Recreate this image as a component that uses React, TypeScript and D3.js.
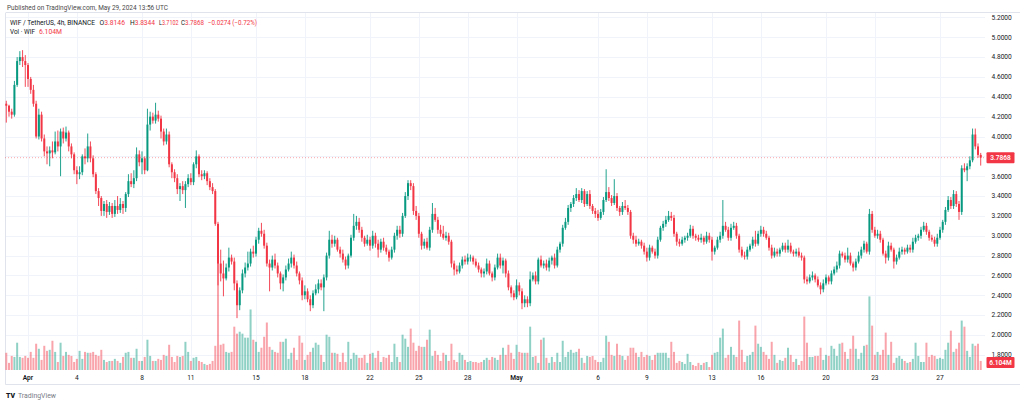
import React, { useRef, useEffect } from 'react';
import * as d3 from 'd3';

// WIF / TetherUS, 4h candles from Mar 30 16:00 UTC to May 29 12:00 UTC
const firstOpen = 4.33;

const closes = [
  4.31, 4.25, 4.22, 4.52, 4.76, 4.80, 4.76, 4.72, 4.58, 4.47,
  4.33, 4.00, 4.22, 3.98, 3.85, 3.83, 3.86, 3.84, 3.95, 3.90,
  4.05, 3.98, 4.04, 3.90, 3.82, 3.66, 3.62, 3.64, 3.80, 3.78,
  3.90, 3.78, 3.62, 3.45, 3.38, 3.25, 3.32, 3.24, 3.30, 3.22,
  3.30, 3.26, 3.32, 3.28, 3.42, 3.55, 3.52, 3.58, 3.82, 3.74,
  3.78, 3.66, 4.12, 4.20, 4.16, 4.22, 4.18, 4.05, 3.95, 4.02,
  3.72, 3.64, 3.58, 3.47, 3.50, 3.46, 3.52, 3.58, 3.54, 3.72,
  3.80, 3.62, 3.60, 3.63, 3.55, 3.49, 3.45, 3.12, 2.72, 2.62,
  2.57, 2.68, 2.78, 2.74, 2.52, 2.30, 2.45, 2.62, 2.68, 2.72,
  2.84, 2.82, 2.96, 3.05, 3.02, 2.90, 2.72, 2.68, 2.76, 2.70,
  2.62, 2.52, 2.58, 2.66, 2.72, 2.78, 2.70, 2.62, 2.55, 2.40,
  2.44, 2.36, 2.30, 2.42, 2.46, 2.52, 2.48, 2.58, 2.80, 2.96,
  2.92, 2.96, 2.86, 2.82, 2.76, 2.70, 2.80, 2.98, 3.10, 3.14,
  3.06, 2.98, 2.92, 2.96, 2.90, 3.00, 2.92, 2.86, 2.94, 2.88,
  2.84, 2.78, 2.86, 3.00, 3.06, 3.02, 3.20, 3.40, 3.53, 3.50,
  3.25, 3.20, 3.02, 2.90, 2.94, 2.88, 3.06, 3.22, 3.16, 3.06,
  3.02, 2.98, 3.00, 2.94, 2.72, 2.66, 2.64, 2.70, 2.76, 2.74,
  2.78, 2.78, 2.74, 2.70, 2.66, 2.62, 2.64, 2.72, 2.62, 2.58,
  2.68, 2.78, 2.70, 2.75, 2.62, 2.48, 2.42, 2.38, 2.50, 2.44,
  2.32, 2.36, 2.32, 2.56, 2.60, 2.54, 2.76, 2.70, 2.72, 2.68,
  2.75, 2.78, 2.70, 2.86, 2.92, 3.08, 3.14, 3.28, 3.32, 3.38,
  3.42, 3.36, 3.45, 3.32, 3.42, 3.30, 3.25, 3.22, 3.18, 3.24,
  3.36, 3.44, 3.38, 3.33, 3.40, 3.28, 3.24, 3.30, 3.28, 3.24,
  3.00, 2.96, 2.92, 2.94, 2.90, 2.84, 2.78, 2.88, 2.84, 2.80,
  2.96, 3.08, 3.12, 3.16, 3.20, 3.18, 3.02, 2.94, 2.92, 2.96,
  2.98, 3.00, 3.07, 3.00, 2.98, 2.96, 2.98, 2.94, 3.00, 2.96,
  2.84, 2.88, 2.96, 3.00, 3.10, 3.06, 2.98, 3.08, 3.10, 3.00,
  2.86, 2.80, 2.79, 2.86, 2.90, 2.96, 2.92, 3.02, 3.06, 3.02,
  2.98, 2.88, 2.80, 2.84, 2.82, 2.86, 2.90, 2.86, 2.90, 2.84,
  2.82, 2.84, 2.80, 2.78, 2.56, 2.54, 2.58, 2.60, 2.56, 2.50,
  2.46, 2.52, 2.58, 2.54, 2.62, 2.66, 2.70, 2.82, 2.80, 2.76,
  2.80, 2.72, 2.68, 2.74, 2.80, 2.86, 2.92, 2.84, 3.22, 3.06,
  3.00, 3.02, 2.96, 2.82, 2.78, 2.90, 2.86, 2.74, 2.78, 2.84,
  2.86, 2.84, 2.88, 2.86, 2.94, 2.98, 3.00, 3.06, 3.10, 3.04,
  2.98, 2.96, 2.92, 2.98, 3.06, 3.14, 3.26, 3.36, 3.30, 3.42,
  3.32, 3.24, 3.68, 3.66, 3.70, 3.76, 4.02, 3.90, 3.8146, 3.7868,
];

// wick lengths above / below the body, in hundredths
const upperWicks = [
  3, 1, 3, 4, 4, 6, 7, 6, 2, 2,
  5, 3, 6, 3, 4, 5, 4, 9, 10, 11,
  3, 4, 6, 2, 3, 2, 4, 6, 2, 8,
  13, 5, 3, 2, 3, 2, 3, 4, 4, 3,
  6, 10, 6, 3, 2, 7, 8, 8, 7, 4,
  7, 2, 16, 5, 4, 12, 4, 3, 3, 6,
  3, 2, 3, 4, 3, 5, 3, 4, 5, 2,
  6, 2, 4, 3, 2, 3, 4, 2, 2, 14,
  13, 4, 10, 3, 4, 3, 3, 4, 5, 12,
  3, 6, 3, 3, 8, 4, 3, 4, 4, 6,
  3, 2, 3, 4, 5, 6, 3, 4, 2, 3,
  6, 3, 4, 3, 5, 4, 4, 3, 3, 9,
  5, 4, 2, 3, 4, 3, 2, 3, 12, 6,
  4, 3, 2, 5, 3, 5, 3, 4, 3, 4,
  3, 2, 3, 3, 4, 4, 3, 4, 3, 3,
  3, 5, 3, 2, 3, 4, 3, 11, 6, 3,
  5, 8, 4, 3, 2, 3, 4, 3, 3, 4,
  4, 3, 2, 3, 3, 2, 3, 5, 3, 2,
  3, 4, 4, 3, 2, 3, 2, 3, 6, 3,
  3, 4, 3, 8, 3, 4, 2, 4, 3, 4,
  3, 2, 4, 3, 2, 3, 4, 3, 2, 3,
  6, 4, 3, 2, 3, 4, 2, 3, 4, 3,
  3, 23, 5, 3, 17, 3, 2, 4, 6, 3,
  2, 3, 4, 3, 2, 3, 4, 3, 2, 3,
  3, 2, 3, 4, 5, 4, 3, 2, 3, 3,
  2, 3, 4, 3, 2, 3, 4, 2, 4, 3,
  3, 2, 3, 4, 26, 4, 3, 4, 4, 3,
  2, 3, 4, 3, 2, 3, 9, 3, 4, 3,
  3, 2, 3, 4, 3, 2, 3, 3, 6, 3,
  2, 3, 4, 3, 2, 3, 3, 4, 2, 3,
  3, 4, 3, 2, 3, 3, 4, 3, 2, 3,
  8, 3, 2, 3, 4, 3, 3, 2, 5, 3,
  3, 4, 3, 2, 3, 4, 3, 2, 3, 4,
  3, 2, 3, 3, 4, 3, 2, 3, 4, 3,
  2, 3, 3, 4, 3, 2, 3, 4, 3, 4,
  3, 3, 3, 5, 3, 4, 6, 6, 3, 2,
];

const lowerWicks = [
  17, 5, 4, 2, 2, 4, 6, 22, 8, 4,
  3, 2, 3, 3, 5, 11, 13, 6, 2, 5,
  30, 5, 3, 5, 4, 4, 10, 5, 3, 6,
  4, 4, 3, 3, 8, 5, 5, 6, 3, 4,
  3, 4, 3, 6, 4, 3, 3, 4, 3, 4,
  12, 4, 1, 6, 3, 3, 3, 7, 4, 3,
  3, 6, 4, 5, 12, 4, 18, 3, 3, 3,
  4, 3, 4, 3, 4, 3, 3, 2, 22, 8,
  18, 2, 4, 3, 7, 13, 5, 3, 4, 3,
  3, 4, 3, 4, 3, 3, 3, 24, 3, 3,
  4, 6, 8, 3, 2, 4, 3, 3, 4, 5,
  4, 3, 6, 3, 2, 4, 3, 24, 3, 3,
  4, 3, 2, 4, 3, 4, 3, 2, 3, 4,
  3, 4, 3, 2, 5, 3, 4, 8, 3, 3,
  3, 4, 2, 3, 4, 4, 3, 2, 4, 4,
  4, 4, 4, 4, 3, 2, 3, 3, 2, 4,
  3, 2, 3, 3, 4, 6, 3, 2, 3, 3,
  3, 4, 3, 2, 3, 4, 4, 3, 2, 4,
  3, 2, 3, 8, 4, 3, 4, 3, 2, 4,
  6, 4, 4, 3, 2, 3, 3, 2, 3, 3,
  4, 4, 3, 2, 3, 3, 2, 3, 4, 3,
  3, 2, 3, 3, 2, 3, 3, 4, 3, 2,
  3, 2, 3, 3, 2, 3, 4, 3, 2, 3,
  3, 4, 3, 2, 3, 3, 4, 3, 2, 3,
  3, 2, 3, 3, 2, 3, 3, 4, 3, 2,
  3, 3, 2, 3, 3, 2, 3, 3, 2, 3,
  9, 3, 2, 3, 3, 2, 3, 3, 2, 3,
  3, 2, 3, 3, 2, 3, 3, 2, 3, 3,
  2, 3, 3, 2, 3, 3, 2, 3, 3, 2,
  3, 3, 2, 3, 4, 3, 2, 3, 3, 2,
  5, 3, 2, 3, 3, 2, 3, 3, 2, 3,
  3, 2, 4, 3, 2, 3, 3, 2, 3, 3,
  2, 3, 3, 2, 6, 3, 2, 7, 3, 2,
  3, 3, 2, 3, 3, 2, 3, 3, 2, 3,
  3, 2, 3, 3, 2, 3, 3, 2, 3, 3,
  3, 8, 3, 2, 11, 3, 2, 3, 3, 8,
];

// volume per candle, millions of WIF
const volumes = [
  11.6, 4.8, 9.5, 8.8, 18.4, 8.8, 8.2, 9.5, 8.2, 12.2,
  8.2, 17.7, 14.3, 6.8, 16.3, 12.9, 13.6, 19.7, 12.2, 5.4,
  18.4, 9.5, 12.2, 10.2, 9.5, 5.4, 7.5, 12.9, 7.5, 12.2,
  11.6, 11.6, 12.2, 10.2, 9.5, 13.6, 6.8, 5.4, 6.1, 6.1,
  7.5, 6.1, 4.8, 8.8, 11.6, 12.2, 8.2, 8.2, 14.3, 6.1,
  6.1, 8.8, 20.4, 9.5, 6.1, 6.1, 7.5, 6.8, 10.2, 9.5,
  17.0, 8.8, 5.4, 9.5, 8.8, 9.5, 19.0, 12.2, 6.1, 8.2,
  8.8, 6.1, 5.4, 4.1, 3.4, 4.1, 6.1, 16.3, 72.1, 17.0,
  17.7, 12.2, 11.6, 12.2, 29.2, 24.5, 25.8, 24.5, 21.8, 21.8,
  40.8, 20.4, 19.0, 12.2, 15.0, 22.4, 32.0, 15.6, 13.6, 12.2,
  11.6, 19.0, 19.0, 21.1, 7.5, 11.6, 15.0, 6.8, 23.1, 18.4,
  6.8, 10.2, 12.2, 15.0, 18.4, 17.0, 10.2, 5.4, 23.8, 22.4,
  11.6, 11.6, 10.9, 5.4, 11.6, 5.4, 19.0, 7.5, 11.6, 10.2,
  8.2, 8.2, 10.2, 4.8, 10.9, 11.6, 8.2, 12.9, 5.4, 8.8,
  8.2, 10.2, 5.4, 17.7, 8.8, 5.4, 23.8, 21.1, 15.6, 27.9,
  18.4, 12.9, 16.3, 15.6, 15.6, 20.4, 27.2, 9.5, 12.9, 10.2,
  6.1, 11.6, 10.2, 6.1, 17.7, 6.8, 5.4, 11.6, 10.2, 6.8,
  5.4, 6.1, 5.4, 5.4, 4.8, 5.4, 6.8, 8.2, 6.8, 8.8,
  8.2, 6.8, 10.2, 15.0, 10.2, 17.0, 11.6, 7.5, 17.0, 12.2,
  11.6, 11.6, 11.6, 29.2, 8.8, 9.5, 4.8, 20.4, 21.8, 8.2,
  4.8, 8.8, 5.4, 11.6, 5.4, 19.7, 8.8, 12.2, 13.6, 11.6,
  12.2, 14.3, 8.2, 4.8, 9.5, 8.8, 9.5, 6.8, 5.4, 5.4,
  8.2, 23.1, 19.0, 10.2, 9.5, 17.7, 10.2, 9.5, 6.8, 9.5,
  15.0, 15.0, 11.6, 8.8, 12.2, 8.8, 10.2, 9.5, 6.8, 10.2,
  11.6, 11.6, 11.6, 11.6, 8.2, 19.0, 12.2, 4.8, 6.1, 5.4,
  4.1, 10.9, 5.4, 3.4, 2.7, 4.8, 3.4, 4.8, 5.4, 2.0,
  10.2, 11.6, 12.2, 21.8, 27.9, 8.2, 10.2, 15.6, 10.2, 8.8,
  33.3, 13.6, 5.4, 9.5, 10.2, 12.2, 29.9, 17.7, 15.6, 12.2,
  10.2, 7.5, 19.0, 10.2, 4.8, 6.8, 6.1, 8.2, 15.0, 10.2,
  5.4, 7.5, 3.4, 6.1, 36.0, 18.4, 8.8, 8.8, 9.5, 9.5,
  15.0, 6.8, 10.2, 9.5, 16.3, 14.3, 9.5, 17.7, 18.4, 12.2,
  7.5, 14.3, 23.1, 14.3, 7.5, 11.6, 16.3, 17.0, 49.6, 29.9,
  10.2, 12.2, 10.2, 13.6, 25.2, 10.2, 19.0, 4.8, 8.2, 9.5,
  7.5, 6.1, 4.8, 5.4, 7.5, 18.4, 9.5, 5.4, 5.4, 18.4,
  8.8, 10.2, 9.5, 7.5, 8.2, 7.5, 13.6, 18.4, 26.5, 12.2,
  14.3, 18.4, 33.3, 29.2, 12.9, 8.8, 17.7, 16.3, 17.7, 6.104,
];

const dayTicks = [
  '2024-04-01', '2024-04-04', '2024-04-08', '2024-04-11', '2024-04-15', '2024-04-18',
  '2024-04-22', '2024-04-25', '2024-04-28', '2024-05-01', '2024-05-06', '2024-05-09',
  '2024-05-13', '2024-05-16', '2024-05-20', '2024-05-23', '2024-05-27',
];
const dayTickLabels = ['Apr', '4', '8', '11', '15', '18', '22', '25', '28', 'May', '6', '9', '13', '16', '20', '23', '27'];
const priceTicks = [1.8, 2.0, 2.2, 2.4, 2.6, 2.8, 3.0, 3.2, 3.4, 3.6, 3.8, 4.0, 4.2, 4.4, 4.6, 4.8, 5.0, 5.2];

const UP = '#089981';
const DOWN = '#f23645';
const FONT = 'Roboto, "Noto Sans", Arial, sans-serif';

const CandleChart = () => {
    const chartRef = useRef<SVGSVGElement>(null);

    useEffect(() => {
        const width = 1024;
        const height = 404;
        const left = 5;
        const right = 985;
        const top = 13;
        const paneBottom = 370;
        const axisBottom = 384.5;

        const svg = d3.select(chartRef.current);
        svg.selectAll('*').remove();
        svg.attr('width', width).attr('height', height);

        const start = Date.UTC(2024, 2, 30, 16);
        const step = 4 * 3600 * 1000;
        const candles = closes.map((c, i) => {
            const o = i === 0 ? firstOpen : closes[i - 1];
            return {
                t: new Date(start + i * step),
                o,
                c,
                h: Math.max(o, c) + upperWicks[i] / 100,
                l: Math.min(o, c) - lowerWicks[i] / 100,
                v: volumes[i],
            };
        });
        const last = candles[candles.length - 1];

        const x = d3.scaleUtc()
            .domain([new Date(Date.UTC(2024, 3, 1)), new Date(Date.UTC(2024, 4, 27))])
            .range([28, 940]);
        const y = d3.scaleLinear().domain([2.0, 4.0]).range([335, 136.5]);
        const yVol = d3.scaleLinear().domain([0, d3.max(volumes) as number]).range([paneBottom, 263]);

        svg.append('rect').attr('width', width).attr('height', height).attr('fill', '#ffffff');

        svg.append('defs').append('clipPath').attr('id', 'pane-clip')
            .append('rect').attr('x', 0).attr('y', top).attr('width', width).attr('height', paneBottom - top);

        // grid
        const grid = svg.append('g').attr('stroke', '#f0f3fa').attr('stroke-width', 1);
        grid.selectAll('line.h')
            .data(priceTicks.filter(p => y(p) > top && y(p) < paneBottom))
            .enter().append('line')
            .attr('x1', left).attr('x2', right)
            .attr('y1', d => Math.round(y(d)) + 0.5).attr('y2', d => Math.round(y(d)) + 0.5);
        grid.selectAll('line.v')
            .data(dayTicks)
            .enter().append('line')
            .attr('x1', d => Math.round(x(new Date(d + 'T00:00:00Z'))) + 0.5)
            .attr('x2', d => Math.round(x(new Date(d + 'T00:00:00Z'))) + 0.5)
            .attr('y1', top).attr('y2', paneBottom);

        // borders
        svg.append('path')
            .attr('d', `M${left + 0.5},${top}V${axisBottom}H1020M${left + 0.5},${top - 0.5}H1020`)
            .attr('fill', 'none').attr('stroke', '#e0e3eb').attr('stroke-width', 1);

        const pane = svg.append('g').attr('clip-path', 'url(#pane-clip)');

        // volume
        pane.append('g')
            .selectAll('rect')
            .data(candles)
            .enter().append('rect')
            .attr('x', d => x(d.t) - 1)
            .attr('width', 2)
            .attr('y', d => yVol(d.v))
            .attr('height', d => paneBottom - yVol(d.v))
            .attr('fill', d => (d.c >= d.o ? UP : DOWN))
            .attr('fill-opacity', 0.45);

        // candles
        const cg = pane.append('g');
        cg.selectAll('line')
            .data(candles)
            .enter().append('line')
            .attr('x1', d => x(d.t)).attr('x2', d => x(d.t))
            .attr('y1', d => y(d.h)).attr('y2', d => y(d.l))
            .attr('stroke', d => (d.c >= d.o ? UP : DOWN))
            .attr('stroke-width', 0.9);
        cg.selectAll('rect')
            .data(candles)
            .enter().append('rect')
            .attr('x', d => x(d.t) - 1)
            .attr('width', 2)
            .attr('y', d => y(Math.max(d.o, d.c)))
            .attr('height', d => Math.max(0.8, Math.abs(y(d.o) - y(d.c))))
            .attr('fill', d => (d.c >= d.o ? UP : DOWN));

        // last price line
        svg.append('line')
            .attr('x1', left).attr('x2', right)
            .attr('y1', y(last.c)).attr('y2', y(last.c))
            .attr('stroke', DOWN).attr('stroke-width', 0.8)
            .attr('stroke-opacity', 0.55)
            .attr('stroke-dasharray', '1,2');

        // price axis
        const axis = svg.append('g').attr('clip-path', 'url(#pane-clip)')
            .attr('font-family', FONT).attr('font-size', 6.6).attr('fill', '#131722');
        axis.selectAll('text')
            .data(priceTicks)
            .enter().append('text')
            .attr('x', 991.5)
            .attr('y', d => y(d) + 2.3)
            .text(d => d.toFixed(4));

        const tag = (cy: number, label: string) => {
            svg.append('rect')
                .attr('x', 986.5).attr('y', cy - 5.5).attr('width', 28).attr('height', 11)
                .attr('rx', 1).attr('fill', DOWN);
            svg.append('text')
                .attr('x', 1000.5).attr('y', cy + 2.3)
                .attr('text-anchor', 'middle')
                .attr('font-family', FONT).attr('font-size', 6.6).attr('font-weight', 600)
                .attr('fill', '#ffffff')
                .text(label);
        };
        tag(y(last.c), last.c.toFixed(4));
        tag(362.5, '6.104M');

        // time axis
        svg.append('g')
            .attr('font-family', FONT).attr('font-size', 6.6).attr('fill', '#131722')
            .attr('text-anchor', 'middle')
            .selectAll('text')
            .data(dayTicks)
            .enter().append('text')
            .attr('x', d => x(new Date(d + 'T00:00:00Z')))
            .attr('y', 380.4)
            .attr('font-weight', (d, i) => (/[A-Za-z]/.test(dayTickLabels[i]) ? 600 : 400))
            .text((d, i) => dayTickLabels[i]);

        // header
        const head = svg.append('g').attr('font-family', FONT).attr('font-size', 6.7);
        const put = (tx: number, ty: number, s: string, len: number, color: string) => {
            head.append('text')
                .attr('x', tx).attr('y', ty)
                .attr('textLength', len).attr('lengthAdjust', 'spacingAndGlyphs')
                .attr('fill', color)
                .text(s);
        };
        put(7, 9.7, 'Published on TradingView.com, May 29, 2024 13:56 UTC', 161, '#4a4a4a');
        put(10, 25.4, 'WIF / TetherUS, 4h, BINANCE', 85, '#131722');
        const ohlc = [
            { k: 'O', v: '3.8146', x: 99.5, w: 25.5 },
            { k: 'H', v: '3.8344', x: 130, w: 25 },
            { k: 'L', v: '3.7102', x: 159, w: 19.5 },
            { k: 'C', v: '3.7868', x: 181, w: 23 },
        ];
        ohlc.forEach(d => {
            const t = head.append('text').attr('x', d.x).attr('y', 25.4)
                .attr('textLength', d.w).attr('lengthAdjust', 'spacingAndGlyphs');
            t.append('tspan').attr('fill', '#131722').text(d.k);
            t.append('tspan').attr('fill', DOWN).text(d.v);
        });
        put(208, 25.4, '\u22120.0274 (\u22120.72%)', 49, DOWN);
        put(10, 34.4, 'Vol \u00b7 WIF', 25, '#131722');
        put(39, 34.4, '6.104M', 23, DOWN);

        // footer logo
        svg.append('text')
            .attr('x', 6).attr('y', 397.5)
            .attr('font-family', FONT).attr('font-size', 7.5).attr('font-weight', 900)
            .attr('fill', '#131722')
            .attr('textLength', 9).attr('lengthAdjust', 'spacingAndGlyphs')
            .text('TV');
        svg.append('text')
            .attr('x', 18).attr('y', 397.5)
            .attr('font-family', FONT).attr('font-size', 7)
            .attr('fill', '#787b86')
            .attr('textLength', 38).attr('lengthAdjust', 'spacingAndGlyphs')
            .text('TradingView');
    }, []);

    return (
        <div style={{ position: 'absolute', left: 0, top: 0, width: 1024, height: 404, background: '#fff' }}>
            <svg ref={chartRef}></svg>
        </div>
    );
};

export default function App() {
    return <CandleChart />;
}
